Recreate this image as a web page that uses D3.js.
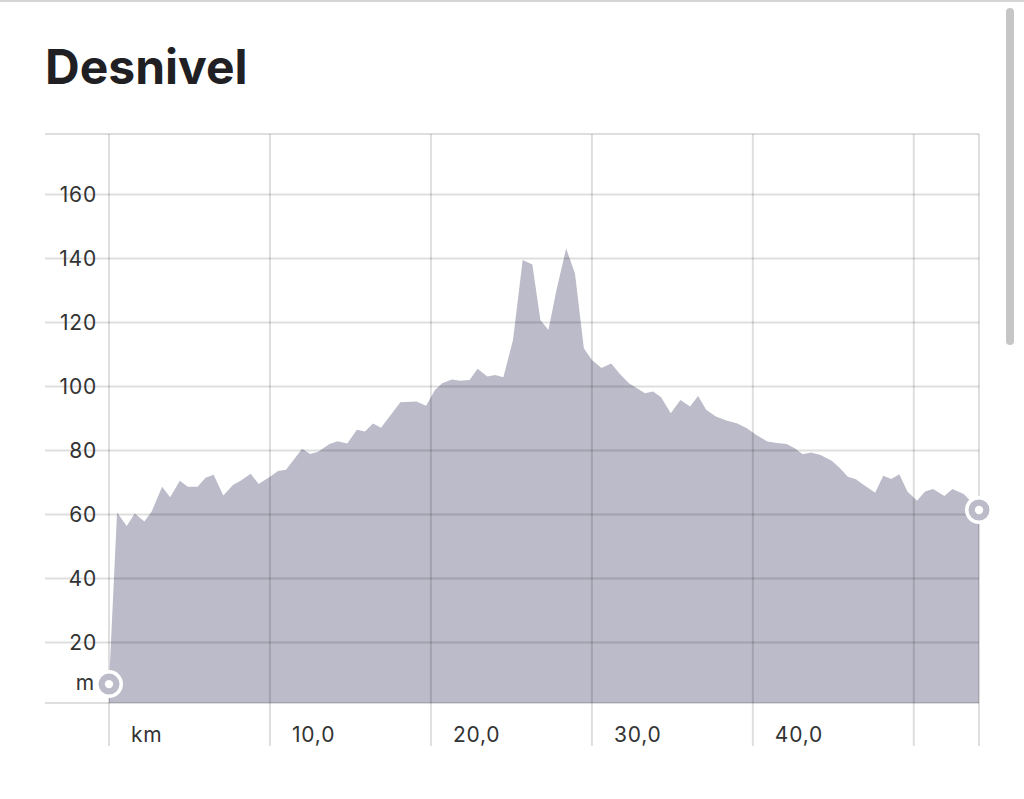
<!DOCTYPE html>
<meta charset="utf-8">
<html>
<head>
    <title>Desnivel</title>
    <script type="text/javascript" src="https://cdn.jsdelivr.net/npm/d3@7/dist/d3.min.js"></script>
    <style type="text/css">
        html, body {
            padding: 0px;
            margin: 0px;
            background: #fff;
        }
        text {
            font-family: Inter, "Noto Sans", sans-serif;
        }
    </style>
</head>
<body>
    <svg id="svg"></svg>
    <script type="text/javascript">
        // distancia (km) y altitud (m) del perfil
        var distKm = [0, 0.5, 1.1, 1.6, 2.2, 2.65, 3.3, 3.8, 4.4, 4.9, 5.5, 6.0, 6.5, 7.1, 7.7, 8.2,
            8.8, 9.3, 10.0, 10.5, 11.0, 12.0, 12.5, 13.0, 13.7, 14.2, 14.8, 15.4, 15.9, 16.4, 16.9,
            17.5, 18.1, 19.1, 19.7, 20.25, 20.7, 21.3, 21.8, 22.4, 22.9, 23.5, 24.0, 24.5, 25.1, 25.7,
            26.3, 26.8, 27.3, 27.8, 28.4, 28.95, 29.5, 30.0, 30.6, 31.2, 31.7, 32.3, 32.8, 33.3, 33.8,
            34.3, 34.9, 35.5, 36.1, 36.6, 37.1, 37.7, 38.4, 39.0, 39.6, 40.2, 40.9, 41.5, 42.1, 42.6,
            43.1, 43.6, 44.2, 44.9, 45.4, 45.9, 46.4, 46.9, 47.6, 48.1, 48.6, 49.1, 49.6, 50.2, 50.7,
            51.2, 51.9, 52.4, 53.1, 54.05]
        var elevM = [7, 60.6, 56.4, 60.3, 57.8, 60.9, 68.7, 65.4, 70.5, 68.7, 68.7, 71.5, 72.4, 65.9, 69.2, 70.6,
            72.7, 69.5, 71.8, 73.6, 74.0, 80.5, 78.9, 79.6, 82.0, 82.9, 82.2, 86.5, 85.9, 88.4, 87.1,
            91.1, 95.1, 95.3, 94.0, 98.9, 101.0, 102.2, 101.8, 102.0, 105.5, 103.1, 103.6, 102.9, 114.5, 139.5,
            138.1, 120.8, 117.6, 130.1, 143.1, 135.3, 111.9, 108.3, 105.8, 107.2, 104.1, 101.0, 99.4, 97.9, 98.4,
            96.6, 91.6, 95.8, 93.7, 97.0, 92.7, 90.6, 89.3, 88.5, 87.0, 84.9, 82.8, 82.3, 82.0, 80.7,
            78.8, 79.4, 78.6, 76.8, 74.5, 71.8, 71.0, 69.2, 66.8, 72.1, 71.1, 72.6, 67.2, 64.3, 67.2,
            68.0, 65.8, 68.0, 66.4, 61.4]
        var yTicks = [20, 40, 60, 80, 100, 120, 140, 160]
        var xTicks = [0, 10, 20, 30, 40, 50]
        var xLabels = ["km", "10,0", "20,0", "30,0", "40,0", ""]

        var width = 1024
        var height = 799
        var svg = d3.select('svg').attr('width', width).attr('height', height)

        var data = distKm.map(function (d, i) { return { km: d, m: elevM[i] } })

        var x = d3.scaleLinear().domain([0, d3.max(distKm)]).range([109, 979])
        var y = d3.scaleLinear().domain([1.1, d3.max(elevM) * 1.25]).range([703, 134])
        var gridLeft = 45

        // linea superior y barra de desplazamiento
        svg.append('line').attr('x1', 0).attr('x2', width).attr('y1', 1).attr('y2', 1)
            .attr('stroke', '#d4d4d4').attr('stroke-width', 2)
        svg.append('rect').attr('x', 1006).attr('y', 8).attr('width', 8).attr('height', 337)
            .attr('rx', 4).attr('fill', '#c6c6c6')

        // titulo
        svg.append('text').attr('x', 45).attr('y', 84)
            .attr('font-size', 48).attr('font-weight', 700).attr('fill', '#1f1f24')
            .text('Desnivel')

        // area del perfil
        var area = d3.area()
            .x(function (d) { return x(d.km) })
            .y0(y.range()[0])
            .y1(function (d) { return y(d.m) })
        svg.append('path').datum(data).attr('d', area).attr('fill', '#bbbbc9')

        // rejilla encima del area
        var grid = svg.append('g').attr('stroke', 'rgba(0,0,0,0.13)').attr('stroke-width', 2)
        grid.selectAll('.h').data([y.domain()[1]].concat(yTicks, [y.domain()[0]])).enter().append('line')
            .attr('x1', gridLeft).attr('x2', x.range()[1])
            .attr('y1', function (d) { return y(d) }).attr('y2', function (d) { return y(d) })
        grid.selectAll('.v').data(xTicks.concat([d3.max(distKm)])).enter().append('line')
            .attr('x1', function (d) { return x(d) }).attr('x2', function (d) { return x(d) })
            .attr('y1', y.range()[1]).attr('y2', 746)

        // etiquetas eje y
        var labelStyle = function (sel) {
            sel.attr('font-size', 21).attr('letter-spacing', 0.8).attr('fill', '#333')
        }
        svg.append('g').selectAll('text').data(yTicks).enter().append('text')
            .attr('x', 97).attr('y', function (d) { return y(d) })
            .attr('dy', '0.35em').attr('text-anchor', 'end')
            .call(labelStyle)
            .text(function (d) { return d })
        svg.append('text').attr('x', 95).attr('y', 683).attr('dy', '0.35em')
            .attr('text-anchor', 'end').call(labelStyle).text('m')

        // etiquetas eje x
        svg.append('g').selectAll('text').data(xTicks).enter().append('text')
            .attr('x', function (d) { return x(d) + 22 }).attr('y', 735)
            .attr('dy', '0.35em').call(labelStyle)
            .text(function (d, i) { return xLabels[i] })

        // marcadores inicio y fin
        var ends = [data[0], data[data.length - 1]]
        var mk = svg.append('g').selectAll('g').data(ends).enter().append('g')
            .attr('transform', function (d) { return 'translate(' + x(d.km) + ',' + y(d.m) + ')' })
        mk.append('circle').attr('r', 14).attr('fill', '#fff')
        mk.append('circle').attr('r', 10.5).attr('fill', '#bbbbc9')
        mk.append('circle').attr('r', 4.2).attr('fill', '#fff')
    </script>
</body>
</html>
